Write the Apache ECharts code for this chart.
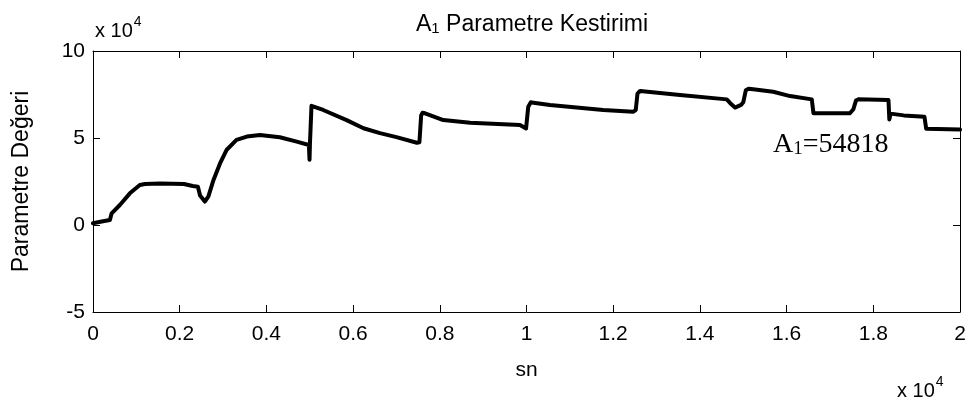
<!DOCTYPE html>
<html>
<head>
<meta charset="utf-8">
<script src="https://cdn.jsdelivr.net/npm/echarts@6/dist/echarts.min.js"></script>
<style>
  html, body { margin: 0; padding: 0; background: #fff; }
  #chart { width: 974px; height: 400px; }
</style>
</head>
<body>
<div id="chart"></div>
<script>
// Time axis (sn) and estimated A1 parameter value along the run
const timeSn = [
  0, 200, 390, 430, 620, 850, 1080, 1200, 1550, 2100, 2300, 2420, 2470, 2580, 2660,
  2780, 2930, 3080, 3310, 3550, 3850, 4310, 4700, 4980, 4995, 5005, 5040, 5080, 5310,
  5850, 6240, 6620, 7000, 7470, 7530, 7570, 7600, 7660, 8080, 8700, 9850, 9990, 10040,
  10100, 10160, 10540, 11770, 12460, 12520, 12560, 12620, 13310, 13540, 14620, 14700,
  14810, 14950, 15000, 15060, 15120, 15230, 15690, 16080, 16580, 16620, 17460, 17540,
  17600, 17650, 18350, 18370, 18400, 18700, 19180, 19220, 20000
];
const a1Value = [
  1000, 2000, 2900, 6700, 11500, 18200, 23000, 23600, 23800, 23600, 22400, 22000, 17000, 13500, 16300,
  25900, 35400, 43100, 48900, 50800, 51700, 50400, 47900, 46000, 37500, 47000, 68500, 69000, 66100,
  60300, 55600, 52800, 50500, 47300, 47600, 63000, 64500, 64200, 60300, 58800, 57500, 55500, 68000,
  70500, 70300, 69000, 66100, 65100, 66000, 75500, 77000, 75300, 74700, 72200, 70000,
  67500, 69000, 70500, 77500, 78300, 78000, 76600, 74100, 72200, 64200, 64200, 66500,
  71500, 72200, 71800, 60700, 64000, 63000, 62200, 55300, 54818
];

// Axis ranges and tick steps (raw units; labels shown in units of 10^4)
const xRange = [0, 20000], xStep = 2000;
const yRange = [-50000, 100000], yStep = 50000;

const finalValue = a1Value[a1Value.length - 1];
const seriesData = timeSn.map((t, i) => [t, a1Value[i]]);

const chart = echarts.init(document.getElementById('chart'), null, { renderer: 'canvas' });

const SANS = '"Liberation Sans", Arial, sans-serif';
const SERIF = '"Liberation Serif", "Times New Roman", serif';
const tickFont = { fontFamily: SANS, fontSize: 21, fontWeight: 'normal', color: '#000' };
const fmtScaled = v => String(Math.round(v / 1e4 * 10) / 10);

const frameAxisLine = { show: true, onZero: false, lineStyle: { color: '#000', width: 1 } };
const frameTick = { show: true, inside: true, length: 7, lineStyle: { color: '#000', width: 1 } };

const sciRich = {
  b: { fontFamily: SANS, fontSize: 20, fill: '#000', verticalAlign: 'bottom', lineHeight: 26 },
  p: { fontFamily: SANS, fontSize: 14, fill: '#000', verticalAlign: 'top', lineHeight: 26, padding: [0, 0, 12, 1] }
};

chart.setOption({
  animation: false,
  backgroundColor: '#fff',
  grid: { left: 93, right: 14, top: 51, bottom: 88, containLabel: false },
  title: {
    text: '{a|A}{s|1}{a| Parametre Kestirimi}',
    left: 527, top: 4, textAlign: 'center',
    textStyle: {
      fontWeight: 'normal',
      rich: {
        a: { fontFamily: SANS, fontSize: 23, fontWeight: 'normal', color: '#000', verticalAlign: 'bottom', lineHeight: 27 },
        s: { fontFamily: SANS, fontSize: 15, fontWeight: 'normal', color: '#000', verticalAlign: 'bottom', lineHeight: 22 }
      }
    }
  },
  xAxis: [
    {
      type: 'value', min: xRange[0], max: xRange[1], interval: xStep,
      name: 'sn', nameLocation: 'middle', nameGap: 48,
      nameTextStyle: tickFont,
      axisLine: frameAxisLine, axisTick: frameTick,
      axisLabel: Object.assign({ margin: 12, formatter: fmtScaled }, tickFont),
      splitLine: { show: false }
    },
    {
      type: 'value', position: 'top', min: xRange[0], max: xRange[1], interval: xStep,
      axisLine: frameAxisLine, axisTick: frameTick,
      axisLabel: { show: false }, splitLine: { show: false }
    }
  ],
  yAxis: [
    {
      type: 'value', min: yRange[0], max: yRange[1], interval: yStep,
      name: 'Parametre Değeri', nameLocation: 'middle', nameGap: 60, nameRotate: 90,
      nameTextStyle: Object.assign({}, tickFont, { fontSize: 23 }),
      axisLine: frameAxisLine, axisTick: frameTick,
      axisLabel: Object.assign({ margin: 8, formatter: fmtScaled }, tickFont),
      splitLine: { show: false }
    },
    {
      type: 'value', position: 'right', min: yRange[0], max: yRange[1], interval: yStep,
      axisLine: frameAxisLine, axisTick: frameTick,
      axisLabel: { show: false }, splitLine: { show: false }
    }
  ],
  series: [{
    type: 'line',
    xAxisIndex: 0, yAxisIndex: 0,
    data: seriesData,
    showSymbol: false,
    smooth: false,
    clip: true,
    lineStyle: { color: '#000', width: 4, join: 'round', cap: 'round' }
  }],
  graphic: [
    {
      type: 'text', left: 95, top: 15,
      style: { text: '{b|x 10}{p|4}', rich: sciRich }
    },
    {
      type: 'text', left: 897, top: 375,
      style: { text: '{b|x 10}{p|4}', rich: sciRich }
    },
    {
      type: 'text', left: 773, top: 131,
      style: {
        text: '{a|A}{s|1}{a|=' + finalValue + '}',
        rich: {
          a: { fontFamily: SERIF, fontSize: 28, fill: '#000', verticalAlign: 'bottom', lineHeight: 32 },
          s: { fontFamily: SERIF, fontSize: 19, fill: '#000', verticalAlign: 'bottom', lineHeight: 28 }
        }
      }
    }
  ]
});
</script>
</body>
</html>
